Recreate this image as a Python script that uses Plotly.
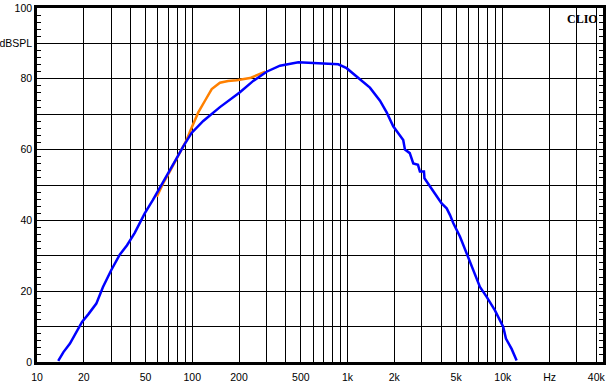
import plotly.graph_objects as go

# Blue curve (frequency Hz, dB SPL)
blue_f = [13.7, 14.8, 16.3, 18.2, 19.5, 21.5, 24.1, 26.6, 30.1, 34.1, 38.0, 42.6, 49.4, 55.8,
          59.0, 68.4, 79.4, 87.5, 99.0, 117.7, 150.7, 202.8, 247, 301, 367, 482, 573, 698,
          871, 986, 1202, 1393, 1617, 1786, 1968, 2120, 2283, 2342, 2515, 2650, 2841, 2923,
          3104, 3128, 3394, 3838, 4035, 4347, 4570, 4800, 5300, 5990, 6610, 7120, 7866,
          8895, 10060, 10470, 11390, 12270]
blue_db = [0.3, 2.8, 5.2, 8.9, 11.3, 13.6, 16.5, 21.2, 26.0, 30.3, 33.0, 36.5, 42.0, 45.8,
           47.6, 52.4, 57.6, 60.9, 64.7, 68.1, 72.0, 76.2, 79.4, 82.0, 83.7, 84.7, 84.5, 84.4,
           84.1, 83.0, 80.0, 77.5, 73.8, 70.5, 66.6, 64.6, 62.7, 60.0, 59.0, 56.1, 55.7, 53.8,
           53.8, 51.9, 49.5, 46.2, 44.8, 43.4, 41.5, 39.2, 35.4, 29.7, 25.0, 21.2, 18.4,
           14.6, 9.9, 6.6, 3.7, 0.4]

# Orange curve
orange_f = [59.1, 65.7, 72.0, 80.0, 91.9, 99.0, 109.3, 120.7, 133.4, 150.7, 170, 193, 235, 280, 295]
orange_db = [46.7, 50.9, 54.0, 57.8, 62.7, 66.2, 70.5, 73.8, 77.1, 78.9, 79.4, 79.6, 80.2, 81.6, 82.0]

# Axis ticks
x_grid = [10, 20, 30, 40, 50, 60, 70, 80, 90, 100, 200, 300, 400, 500, 600, 700, 800, 900,
          1000, 2000, 3000, 4000, 5000, 6000, 7000, 8000, 9000, 10000, 20000, 30000, 40000]
x_labels = {10: "10", 20: "20", 50: "50", 100: "100", 200: "200", 500: "500", 1000: "1k",
            2000: "2k", 5000: "5k", 10000: "10k", 20000: "Hz", 40000: "40k"}
y_grid = [0, 10, 20, 30, 40, 50, 60, 70, 80, 90, 100]
y_labels = {0: "0", 20: "20", 40: "40", 60: "60", 80: "80", 90: "dBSPL", 100: "100"}

fig = go.Figure()
fig.add_trace(go.Scatter(x=orange_f, y=orange_db, mode="lines",
                         line=dict(color="#FF8000", width=2.5), hoverinfo="skip"))
fig.add_trace(go.Scatter(x=blue_f, y=blue_db, mode="lines",
                         line=dict(color="#0000FF", width=2.5), hoverinfo="skip"))

fig.update_layout(
    width=611, height=388,
    margin=dict(l=37, r=8, t=8, b=26),
    paper_bgcolor="white", plot_bgcolor="white",
    showlegend=False,
    font=dict(family="Liberation Sans, Arial", size=10.5, color="black"),
)
fig.update_xaxes(
    type="log", range=[1, 4.645], automargin=False,
    tickmode="array", tickvals=x_grid,
    ticktext=[x_labels.get(v, "") for v in x_grid],
    showgrid=True, gridcolor="black", gridwidth=1,
    showline=True, linecolor="black", linewidth=2.5, mirror=True,
    ticks="", zeroline=False, ticklabelstandoff=4,
)
fig.update_yaxes(
    range=[0, 100], automargin=False,
    tickmode="array", tickvals=y_grid,
    ticktext=[y_labels.get(v, "") for v in y_grid],
    showgrid=True, gridcolor="black", gridwidth=1,
    showline=True, linecolor="black", linewidth=2.5, mirror="allticks",
    ticks="inside", ticklen=4, tickcolor="black",
    minor=dict(dtick=2, ticks="inside", ticklen=4, tickcolor="black", showgrid=False),
    zeroline=False,
)
fig.add_annotation(
    x=0.995, y=0.995, xref="paper", yref="paper", xanchor="right", yanchor="top",
    text="<b>CLIO</b>", showarrow=False,
    font=dict(family="Liberation Serif, Times New Roman", size=12, color="black"),
)
fig.write_html("out.html", config={"displayModeBar": False},
               post_script="document.body.style.margin='0';")
